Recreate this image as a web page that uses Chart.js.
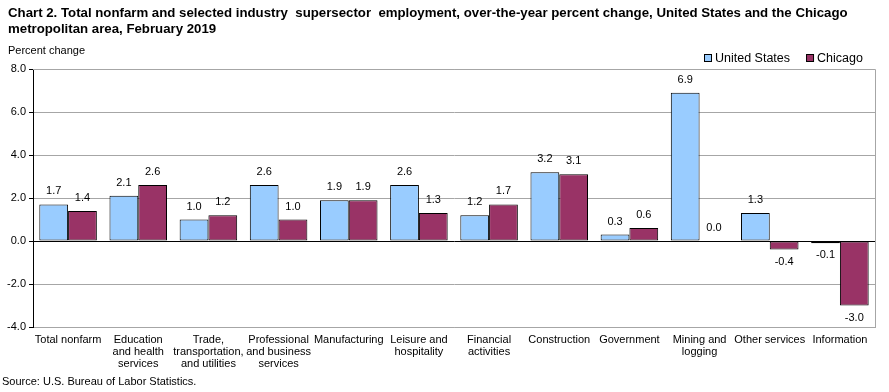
<!DOCTYPE html>
<html>
<head>
<meta charset="utf-8">
<script src="https://cdn.jsdelivr.net/npm/chart.js@4"></script>
<style>
  html, body { margin: 0; padding: 0; background: #fff; }
  #wrap { width: 889px; height: 392px; }
</style>
</head>
<body>
<div id="wrap"><canvas id="grafico" width="889" height="392"></canvas></div>
<script>
// Datos del gráfico
const categorias = [
    'Total nonfarm',
    ['Education', 'and health', 'services'],
    ['Trade,', 'transportation,', 'and utilities'],
    ['Professional', 'and business', 'services'],
    'Manufacturing',
    ['Leisure and', 'hospitality'],
    ['Financial', 'activities'],
    'Construction',
    'Government',
    ['Mining and', 'logging'],
    'Other services',
    'Information'
];
const estadosUnidos = [1.7, 2.1, 1.0, 2.6, 1.9, 2.6, 1.2, 3.2, 0.3, 6.9, 1.3, -0.1];
const chicago = [1.4, 2.6, 1.2, 1.0, 1.9, 1.3, 1.7, 3.1, 0.6, 0.0, -0.4, -3.0];
const ticksY = [-4, -2, 0, 2, 4, 6, 8];

const tituloLineas = [
    'Chart 2. Total nonfarm and selected industry  supersector  employment, over-the-year percent change, United States and the Chicago',
    'metropolitan area, February 2019'
];
const FUENTE = 'Arial, "Liberation Sans", sans-serif';

// Etiquetas de valor sobre/bajo cada barra
const etiquetasValor = {
    id: 'etiquetasValor',
    afterDatasetsDraw(chart) {
        const ctx = chart.ctx;
        ctx.save();
        ctx.font = '11px ' + FUENTE;
        ctx.fillStyle = '#000';
        ctx.textAlign = 'center';
        ctx.textBaseline = 'middle';
        chart.data.datasets.forEach((ds, i) => {
            const meta = chart.getDatasetMeta(i);
            meta.data.forEach((bar, j) => {
                const v = ds.data[j];
                const y = v >= 0 ? bar.y - 13 : bar.y + 12;
                ctx.fillText(v.toFixed(1), bar.x, y);
            });
        });
        ctx.restore();
    }
};

// Título, leyenda, fuente y marco del área
const textosExtra = {
    id: 'textosExtra',
    afterDraw(chart) {
        const ctx = chart.ctx;
        const area = chart.chartArea;
        ctx.save();

        // marco gris del área de trazado
        ctx.strokeStyle = '#a6a6a6';
        ctx.lineWidth = 1;
        ctx.beginPath();
        ctx.moveTo(area.left, Math.round(area.top) + 0.5);
        ctx.lineTo(Math.round(area.right) + 0.5, Math.round(area.top) + 0.5);
        ctx.lineTo(Math.round(area.right) + 0.5, Math.round(area.bottom) + 0.5);
        ctx.stroke();

        ctx.fillStyle = '#000';
        ctx.textAlign = 'left';
        ctx.textBaseline = 'middle';

        // el título ocupa ~840px en el original; ajustar el tamaño
        ctx.font = 'bold 14px ' + FUENTE;
        const ancho = ctx.measureText(tituloLineas[0]).width;
        const tam = Math.min(14, 14 * 840 / ancho);
        ctx.font = 'bold ' + tam.toFixed(2) + 'px ' + FUENTE;
        ctx.fillText(tituloLineas[0], 8, 13);
        ctx.fillText(tituloLineas[1], 8, 29);

        ctx.font = '11px ' + FUENTE;
        ctx.fillText('Percent change', 8, 51);
        ctx.fillText('Source: U.S. Bureau of Labor Statistics.', 2, 382);

        // leyenda
        ctx.font = '12.5px ' + FUENTE;
        let x = 704;
        chart.data.datasets.forEach(ds => {
            ctx.fillStyle = ds.backgroundColor;
            ctx.fillRect(x + 0.5, 54.5, 7, 7);
            ctx.strokeStyle = '#000';
            ctx.strokeRect(x + 0.5, 54.5, 7, 7);
            ctx.fillStyle = '#000';
            ctx.fillText(ds.label, x + 11, 58.5);
            x += 11 + ctx.measureText(ds.label).width + 16;
        });
        ctx.restore();
    }
};

const ctx = document.getElementById('grafico');
new Chart(ctx, {
    type: 'bar',
    data: {
        labels: categorias,
        datasets: [
            {
                label: 'United States',
                data: estadosUnidos,
                backgroundColor: '#99CCFF',
                borderColor: '#000',
                borderWidth: 1,
                borderSkipped: false
            },
            {
                label: 'Chicago',
                data: chicago,
                backgroundColor: '#993366',
                borderColor: '#000',
                borderWidth: 1,
                borderSkipped: false
            }
        ]
    },
    options: {
        responsive: false,
        animation: false,
        devicePixelRatio: 1,
        layout: { padding: { top: 69, right: 14, bottom: 15, left: 0 } },
        datasets: { bar: { categoryPercentage: 0.82, barPercentage: 1.0 } },
        plugins: {
            legend: { display: false },
            title: { display: false },
            tooltip: { enabled: false }
        },
        scales: {
            x: {
                grid: { display: false, drawTicks: false },
                border: { display: true, color: '#a6a6a6' },
                ticks: {
                    color: '#000',
                    font: { family: FUENTE, size: 11, lineHeight: 1.1 },
                    padding: 7,
                    maxRotation: 0,
                    autoSkip: false
                },
                afterFit(scale) { scale.height = 50; }
            },
            y: {
                min: -4,
                max: 8,
                afterBuildTicks(scale) { scale.ticks = ticksY.map(v => ({ value: v })); },
                grid: {
                    color: c => c.tick && c.tick.value === 0 ? '#000' : '#a6a6a6',
                    tickColor: '#000',
                    tickLength: 4
                },
                border: { display: true, color: '#000' },
                ticks: {
                    color: '#000',
                    font: { family: FUENTE, size: 11 },
                    padding: 3,
                    callback: v => v.toFixed(1)
                },
                afterFit(scale) { scale.width = 33; }
            }
        }
    },
    plugins: [etiquetasValor, textosExtra]
});
</script>
</body>
</html>
